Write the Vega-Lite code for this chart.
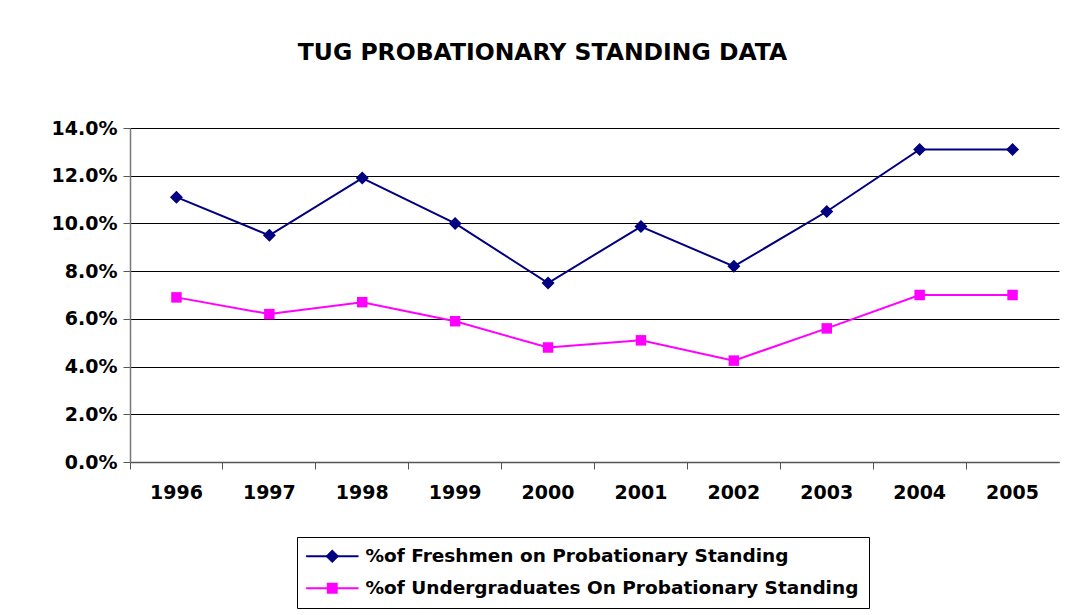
{
  "$schema": "https://vega.github.io/schema/vega-lite/v6.json",
  "width": 929,
  "height": 334,
  "autosize": {"type": "none"},
  "padding": {"left": 130, "top": 128, "right": 6, "bottom": 153},
  "background": "white",
  "title": {
    "text": "TUG PROBATIONARY STANDING DATA",
    "font": "DejaVu Sans",
    "fontSize": 23.5,
    "fontWeight": "bold",
    "color": "black",
    "anchor": "middle",
    "dx": -52,
    "offset": 55
  },
  "data": {
    "values": [
      {"year": "1996", "series": "%of Freshmen on Probationary Standing", "value": 0.111},
      {"year": "1997", "series": "%of Freshmen on Probationary Standing", "value": 0.095},
      {"year": "1998", "series": "%of Freshmen on Probationary Standing", "value": 0.119},
      {"year": "1999", "series": "%of Freshmen on Probationary Standing", "value": 0.100},
      {"year": "2000", "series": "%of Freshmen on Probationary Standing", "value": 0.075},
      {"year": "2001", "series": "%of Freshmen on Probationary Standing", "value": 0.0987},
      {"year": "2002", "series": "%of Freshmen on Probationary Standing", "value": 0.082},
      {"year": "2003", "series": "%of Freshmen on Probationary Standing", "value": 0.105},
      {"year": "2004", "series": "%of Freshmen on Probationary Standing", "value": 0.131},
      {"year": "2005", "series": "%of Freshmen on Probationary Standing", "value": 0.131},
      {"year": "1996", "series": "%of Undergraduates On Probationary Standing", "value": 0.069},
      {"year": "1997", "series": "%of Undergraduates On Probationary Standing", "value": 0.062},
      {"year": "1998", "series": "%of Undergraduates On Probationary Standing", "value": 0.067},
      {"year": "1999", "series": "%of Undergraduates On Probationary Standing", "value": 0.059},
      {"year": "2000", "series": "%of Undergraduates On Probationary Standing", "value": 0.048},
      {"year": "2001", "series": "%of Undergraduates On Probationary Standing", "value": 0.051},
      {"year": "2002", "series": "%of Undergraduates On Probationary Standing", "value": 0.0425},
      {"year": "2003", "series": "%of Undergraduates On Probationary Standing", "value": 0.056},
      {"year": "2004", "series": "%of Undergraduates On Probationary Standing", "value": 0.070},
      {"year": "2005", "series": "%of Undergraduates On Probationary Standing", "value": 0.070}
    ]
  },
  "encoding": {
    "x": {
      "field": "year",
      "type": "ordinal",
      "bandPosition": 0.5,
      "scale": {"type": "band", "paddingInner": 0, "paddingOuter": 0},
      "axis": {
        "title": null,
        "labelAngle": 0,
        "bandPosition": 0,
        "labelFont": "DejaVu Sans",
        "labelFontSize": 19,
        "labelFontWeight": "bold",
        "labelColor": "black",
        "labelPadding": 14,
        "labelBaseline": "top",
        "tickSize": 7,
        "tickColor": "#555555",
        "domainColor": "#555555",
        "domainWidth": 1.5,
        "grid": false
      }
    },
    "y": {
      "field": "value",
      "type": "quantitative",
      "scale": {"domain": [0, 0.14], "nice": false, "zero": true},
      "axis": {
        "title": null,
        "values": [0, 0.02, 0.04, 0.06, 0.08, 0.1, 0.12, 0.14],
        "format": ".1%",
        "labelFont": "DejaVu Sans",
        "labelFontSize": 19,
        "labelFontWeight": "bold",
        "labelColor": "black",
        "labelPadding": 6,
        "tickSize": 7,
        "tickColor": "#555555",
        "domainColor": "#777777",
        "domainWidth": 1.5,
        "grid": true,
        "gridColor": "black",
        "gridWidth": 1,
        "gridOpacity": 1
      }
    }
  },
  "layer": [
    {
      "mark": {"type": "line", "strokeWidth": 2},
      "encoding": {
        "color": {
          "field": "series",
          "type": "nominal",
          "scale": {
            "domain": ["%of Freshmen on Probationary Standing", "%of Undergraduates On Probationary Standing"],
            "range": ["#000080", "#FF00FF"]
          },
          "legend": {
            "title": null,
            "orient": "none",
            "legendX": 167,
            "legendY": 409,
            "direction": "vertical",
            "padding": 10,
            "rowPadding": 13,
            "fillColor": "white",
            "strokeColor": "black",
            "labelFont": "DejaVu Sans",
            "labelFontSize": 18.5,
            "labelFontWeight": "bold",
            "labelColor": "black",
            "labelLimit": 1000,
            "labelOffset": 24,
            "symbolSize": 169,
            "symbolOffset": 16,
            "symbolStrokeWidth": 0.5,
            "symbolOpacity": 1,
            "encode": {
              "symbols": {
                "update": {
                  "shape": {"signal": "datum.value === '%of Freshmen on Probationary Standing' ? 'M-4,-0.12L4,-0.12L4,0.12L-4,0.12ZM-1,0L0,-1L1,0L0,1Z' : 'M-4,-0.12L4,-0.12L4,0.12L-4,0.12ZM-0.8,-0.8L0.8,-0.8L0.8,0.8L-0.8,0.8Z'"},
                  "fill": {"scale": "color", "field": "value"},
                  "stroke": {"scale": "color", "field": "value"},
                  "strokeWidth": {"value": 0.5},
                  "opacity": {"value": 1},
                  "fillOpacity": {"value": 1},
                  "strokeOpacity": {"value": 1}
                }
              }
            }
          }
        }
      }
    },
    {
      "transform": [{"filter": "datum.series === '%of Freshmen on Probationary Standing'"}],
      "mark": {"type": "point", "filled": true, "opacity": 1, "shape": "diamond", "size": 169, "color": "#000080"}
    },
    {
      "transform": [{"filter": "datum.series === '%of Undergraduates On Probationary Standing'"}],
      "mark": {"type": "point", "filled": true, "opacity": 1, "shape": "square", "size": 110, "color": "#FF00FF"}
    }
  ],
  "config": {
    "view": {"stroke": null},
    "axis": {"labelFlush": false, "labelOverlap": false}
  }
}
